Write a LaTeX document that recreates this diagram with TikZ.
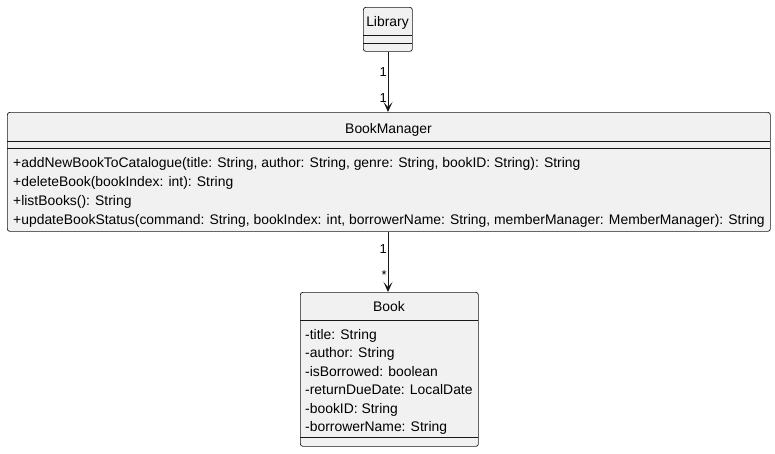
\documentclass[tikz,border=0pt]{standalone}
\usepackage{fontspec}
\setmainfont{Liberation Sans}
\usepackage{tikz}
\usetikzlibrary{arrows.meta}
\definecolor{umlfill}{HTML}{F1F1F1}
\definecolor{umlline}{HTML}{181818}
\tikzset{
  umlbox/.style={draw=umlline, fill=umlfill, rounded corners=2.5pt, line width=0.7pt,
    inner sep=0pt, anchor=north west},
  member/.style={anchor=west, inner sep=0pt, text height=10pt, text depth=3pt,
    font=\fontsize{13.9}{16}\selectfont},
  title/.style={inner sep=0pt, text height=10pt, text depth=3pt, font=\fontsize{13.9}{16}\selectfont},
  mult/.style={anchor=east, inner sep=0pt, font=\fontsize{13}{15}\selectfont},
  assoc/.style={draw=umlline, line width=1pt, -{Stealth[length=10pt,width=9pt,inset=5pt]}}
}
\begin{document}
\begin{tikzpicture}[x=1pt,y=-1pt]
          \useasboundingbox (0,0) rectangle (775,453);
          
          % Library (top)
          \node[umlbox, minimum width=49pt, minimum height=44pt] (library) at (363,7) {};
          \node[title] (libraryname) at (387.5,23) {Library};
          \draw[umlline, line width=0.7pt] (363,35) -- (412,35);
          \draw[umlline, line width=0.7pt] (363,43) -- (412,43);
          
          % BookManager (middle)
          \node[umlbox, minimum width=763pt, minimum height=119pt] (manager) at (7,112) {};
          \node[title] (managername) at (388.5,129.5) {BookManager};
          \draw[umlline, line width=0.7pt] (7,141) -- (770,141);
          \draw[umlline, line width=0.7pt] (7,148) -- (770,148);
          \node[member] (m1) at (13,163.5) {+addNewBookToCatalogue(title: String, author: String, genre: String, bookID: String): String};
          \node[member] (m2) at (13,182.5) {+deleteBook(bookIndex: int): String};
          \node[member] (m3) at (13,201.5) {+listBooks(): String};
          \node[member] (m4) at (13,220.5) {+updateBookStatus(command: String, bookIndex: int, borrowerName: String, memberManager: MemberManager): String};
          
          % Book (bottom)
          \node[umlbox, minimum width=178pt, minimum height=154pt] (book) at (300,292) {};
          \node[title] (bookname) at (389,307.5) {Book};
          \draw[umlline, line width=0.7pt] (300,320) -- (478,320);
          \draw[umlline, line width=0.7pt] (300,437) -- (478,437);
          \node[member] (a1) at (305,335.5) {-title: String};
          \node[member] (a2) at (305,354) {-author: String};
          \node[member] (a3) at (305,372.5) {-isBorrowed: boolean};
          \node[member] (a4) at (305,391) {-returnDueDate: LocalDate};
          \node[member] (a5) at (305,409.5) {-bookID: String};
          \node[member] (a6) at (305,428) {-borrowerName: String};
          
          % associations
          \draw[assoc] (library.south -| 388,0) -- (manager.north -| 388,0);
          \draw[assoc] (manager.south -| 388,0) -- (book.north -| 388,0);
          \node[mult] (l1) at (387,72) {1};
          \node[mult] (l2) at (387,98) {1};
          \node[mult] (l3) at (387,249) {1};
          \node[mult] (l4) at (387,275) {*};
        \end{tikzpicture}
\end{document}
